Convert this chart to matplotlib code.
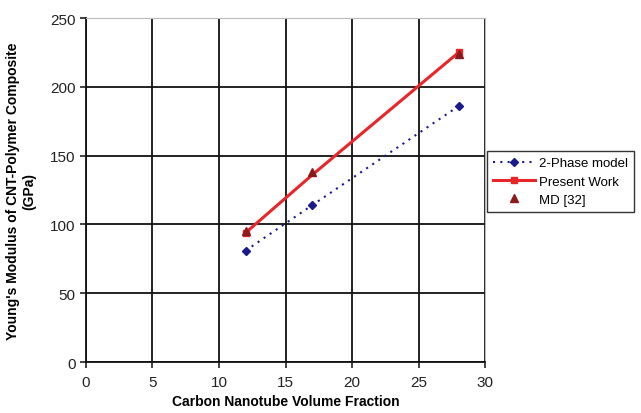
import matplotlib
matplotlib.use("Agg")
import matplotlib.pyplot as plt

plt.rcParams['font.family'] = ['Liberation Sans', 'DejaVu Sans']

x_vals = [12, 17, 28]
two_phase = [81, 114, 186]
present_work = [94, 136, 225]
md_x = [12, 17, 28]
md_vals = [95, 138, 224]

fig = plt.figure(figsize=(6.41, 4.14), dpi=100)
ax = fig.add_axes([0.134, 0.123, 0.623, 0.831])

ax.plot(x_vals, two_phase, linestyle=(0, (1, 2.5)), color='#1a1a8c', lw=1.5,
        marker='D', markersize=4, label='2-Phase model')
ax.plot(x_vals, present_work, linestyle='-', color='#e8262a', lw=2.2,
        marker='s', markersize=5, markevery=[0, 2], label='Present Work')
ax.plot(md_x, md_vals, linestyle='none', color='#8b1a1a', marker='^',
        markersize=6, label='MD [32]')

ax.set_xlim(0, 30)
ax.set_ylim(0, 250)
ax.set_xticks(range(0, 31, 5))
ax.set_yticks(range(0, 251, 50))
ax.grid(True, color='#111111', lw=1.3)
ax.set_axisbelow(True)
for s in ['top', 'right']:
    ax.spines[s].set_color('#bbbbbb')
for s in ['left', 'bottom']:
    ax.spines[s].set_color('#111111')
    ax.spines[s].set_linewidth(1.3)
ax.tick_params(direction='out', length=4, width=1.2, labelsize=11, colors='#222222')
ax.tick_params(axis='x', pad=5)

ax.set_xlabel('Carbon Nanotube Volume Fraction', fontsize=10, fontweight='bold', labelpad=4)
ax.set_ylabel("Young's Modulus of CNT-Polymer Composite\n(GPa)", fontsize=10,
              fontweight='bold', labelpad=10)

leg = ax.legend(loc='upper left', bbox_to_anchor=(1.005, 0.613), frameon=True,
                fancybox=False, edgecolor='black', fontsize=9.5, handlelength=3.2,
                handletextpad=0.3, borderaxespad=0, labelspacing=0.45,
                borderpad=0.45)
leg.get_frame().set_linewidth(1.0)

fig.savefig('out.png', dpi=100)
